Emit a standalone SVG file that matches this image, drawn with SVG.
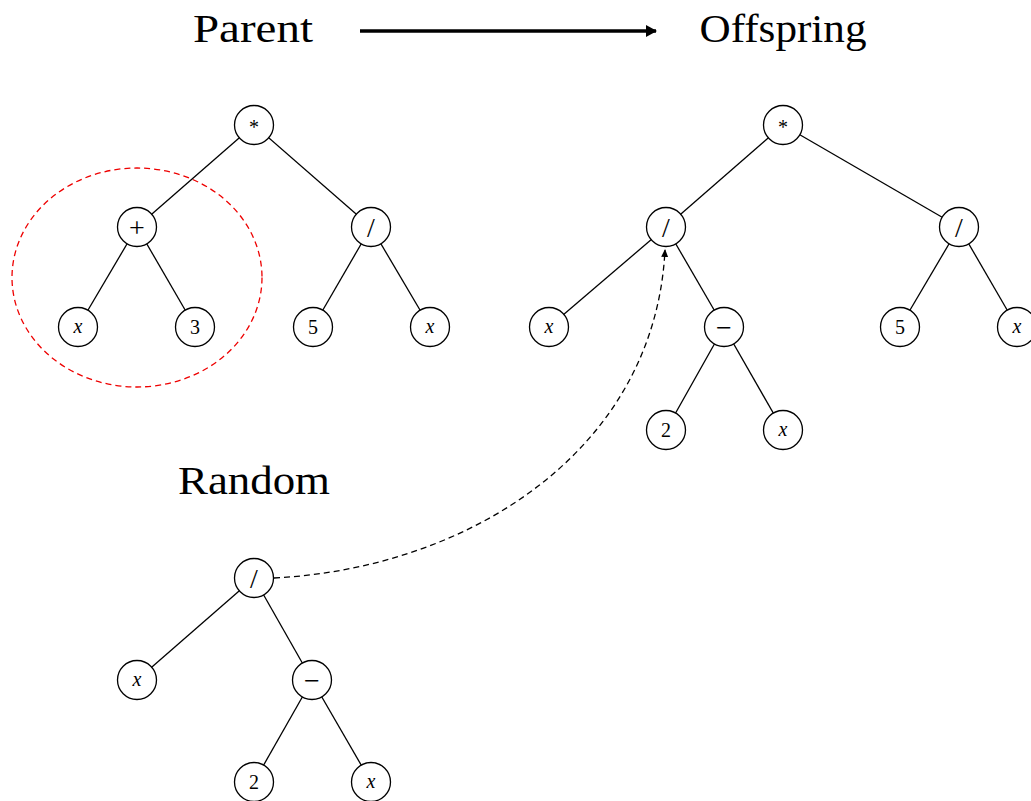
<svg xmlns="http://www.w3.org/2000/svg" width="1031" height="801" viewBox="0 0 1031 801">
<style>
.n circle{fill:#fff;stroke:#000;stroke-width:1.3}
.n text{font-family:"Liberation Serif","DejaVu Serif",serif;font-size:20px;text-anchor:middle;fill:#000}
.n text.v{font-style:italic}
.n text.o{font-size:28px}
.e line{stroke:#000;stroke-width:1.3}
.t{font-family:"Liberation Serif","DejaVu Serif",serif;font-size:39px;text-anchor:middle;fill:#000}
</style>
<defs>
<marker id="ah" markerWidth="8" markerHeight="8" refX="7" refY="4" orient="auto" markerUnits="userSpaceOnUse"><path d="M0,0.5 L8,4 L0,7.5 Z" fill="#000"/></marker>
<marker id="ah2" markerWidth="12" markerHeight="12" refX="10" refY="6" orient="auto" markerUnits="userSpaceOnUse"><path d="M0,0 L11,6 L0,12 Z" fill="#000"/></marker>
</defs>
<text class="t" x="253" y="42" textLength="120" lengthAdjust="spacingAndGlyphs">Parent</text>
<text class="t" x="783" y="42" textLength="167" lengthAdjust="spacingAndGlyphs">Offspring</text>
<text class="t" x="254" y="494" textLength="152" lengthAdjust="spacingAndGlyphs">Random</text>
<g id="connectors">
<line x1="360" y1="31" x2="656" y2="31" stroke="#000" stroke-width="3.6" marker-end="url(#ah2)"/>
<ellipse cx="137" cy="277.5" rx="125" ry="109.5" fill="none" stroke="#e00" stroke-width="1.3" stroke-dasharray="6,4"/>
<path d="M274,578 C470,568 655,450 665,250" fill="none" stroke="#000" stroke-width="1.3" stroke-dasharray="6,4" marker-end="url(#ah)"/>
<g class="e">
<line x1="254" y1="125" x2="137" y2="227"/><line x1="254" y1="125" x2="371" y2="227"/>
<line x1="137" y1="227" x2="78" y2="327"/><line x1="137" y1="227" x2="195" y2="327"/>
<line x1="371" y1="227" x2="313" y2="327"/><line x1="371" y1="227" x2="430" y2="327"/>
<line x1="783" y1="125" x2="666" y2="227"/><line x1="783" y1="125" x2="959" y2="227"/>
<line x1="666" y1="227" x2="549" y2="327"/><line x1="666" y1="227" x2="724" y2="327"/>
<line x1="724" y1="327" x2="666" y2="430"/><line x1="724" y1="327" x2="783" y2="430"/>
<line x1="959" y1="227" x2="900" y2="327"/><line x1="959" y1="227" x2="1017" y2="327"/>
<line x1="254" y1="578" x2="137" y2="680"/><line x1="254" y1="578" x2="312" y2="680"/>
<line x1="312" y1="680" x2="254" y2="782"/><line x1="312" y1="680" x2="371" y2="782"/>
</g>
</g>
<g id="p_root" class="n"><circle cx="254" cy="125" r="19.5"/><text x="254" y="134">*</text></g>
<g id="p_plus" class="n"><circle cx="137" cy="227" r="19.5"/><text class="o" x="137" y="236.5">+</text></g>
<g id="p_div" class="n"><circle cx="371" cy="227" r="19.5"/><text class="o" x="371" y="237">/</text></g>
<g id="p_x1" class="n"><circle cx="78" cy="327" r="19.5"/><text class="v" x="78" y="333">x</text></g>
<g id="p_3" class="n"><circle cx="195" cy="327" r="19.5"/><text x="195" y="334">3</text></g>
<g id="p_5" class="n"><circle cx="313" cy="327" r="19.5"/><text x="313" y="334">5</text></g>
<g id="p_x2" class="n"><circle cx="430" cy="327" r="19.5"/><text class="v" x="430" y="333">x</text></g>
<g id="o_root" class="n"><circle cx="783" cy="125" r="19.5"/><text x="783" y="134">*</text></g>
<g id="o_div1" class="n"><circle cx="666" cy="227" r="19.5"/><text class="o" x="666" y="237">/</text></g>
<g id="o_div2" class="n"><circle cx="959" cy="227" r="19.5"/><text class="o" x="959" y="237">/</text></g>
<g id="o_x1" class="n"><circle cx="549" cy="327" r="19.5"/><text class="v" x="549" y="333">x</text></g>
<g id="o_minus" class="n"><circle cx="724" cy="327" r="19.5"/><text class="o" x="724" y="336.5">−</text></g>
<g id="o_5" class="n"><circle cx="900" cy="327" r="19.5"/><text x="900" y="334">5</text></g>
<g id="o_x2" class="n"><circle cx="1017" cy="327" r="19.5"/><text class="v" x="1017" y="333">x</text></g>
<g id="o_2" class="n"><circle cx="666" cy="430" r="19.5"/><text x="666" y="437">2</text></g>
<g id="o_x3" class="n"><circle cx="783" cy="430" r="19.5"/><text class="v" x="783" y="436">x</text></g>
<g id="r_div" class="n"><circle cx="254" cy="578" r="19.5"/><text class="o" x="254" y="588">/</text></g>
<g id="r_x1" class="n"><circle cx="137" cy="680" r="19.5"/><text class="v" x="137" y="686">x</text></g>
<g id="r_minus" class="n"><circle cx="312" cy="680" r="19.5"/><text class="o" x="312" y="689.5">−</text></g>
<g id="r_2" class="n"><circle cx="254" cy="782" r="19.5"/><text x="254" y="789">2</text></g>
<g id="r_x2" class="n"><circle cx="371" cy="782" r="19.5"/><text class="v" x="371" y="788">x</text></g>
</svg>
